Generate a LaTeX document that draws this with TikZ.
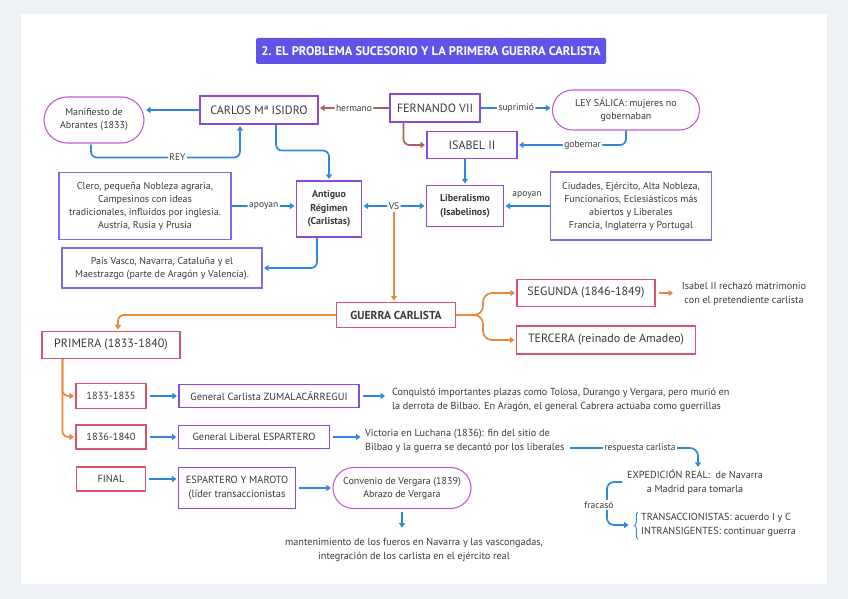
\documentclass[tikz,border=0pt]{standalone}
\usepackage{fontspec}
\setmainfont{PT Sans}
\usetikzlibrary{arrows.meta,decorations.pathreplacing,calc,shapes.misc}
\definecolor{bg}{HTML}{EEF1F5}
\definecolor{titlec}{HTML}{6253E8}
\definecolor{bluec}{HTML}{2F88DA}
\definecolor{purc}{HTML}{8C4BD6}
\definecolor{lavc}{HTML}{7D6BEA}
\definecolor{magc}{HTML}{C25BD8}
\definecolor{redc}{HTML}{D9536C}
\definecolor{orc}{HTML}{E8893A}
\definecolor{brc}{HTML}{B0605C}
\definecolor{txt}{HTML}{3A3A3A}
\tikzset{
  box/.style={draw=purc, line width=1.1pt, fill=white, text=txt, inner sep=2pt, align=center, font=\fontsize{12}{14}\selectfont},
  lbox/.style={box, draw=lavc, font=\fontsize{10}{13}\selectfont},
  rbox/.style={box, draw=redc},
  pill/.style={box, draw=magc, rounded rectangle, font=\fontsize{10}{13}\selectfont},
  smallbox/.style={font=\fontsize{10.4}{13}\selectfont},
  plain/.style={text=txt, inner sep=1pt, font=\fontsize{10.2}{14}\selectfont},
  elab/.style={fill=white, text=txt, inner sep=1.5pt, font=\fontsize{9.5}{11}\selectfont},
  tip/.style={-{Triangle[length=4.5pt,width=6pt]}},
  conn/.style={draw=bluec, line width=1.7pt, tip, rounded corners=6pt, shorten >=1.5pt},
  oconn/.style={conn, draw=orc},
  bconn/.style={conn, draw=brc},
}
\begin{document}
\begin{tikzpicture}[x=1pt,y=-1pt]
\useasboundingbox (0,0) rectangle (848,599);
\fill[bg] (0,0) rectangle (848,599);
\fill[white] (21,14) rectangle (827,584);

% title
\node[fill=titlec, text=white, minimum width=350pt, minimum height=26pt, inner sep=0pt, rounded corners=1.5pt,
  font=\fontsize{12.5}{14}\selectfont\bfseries] (title) at (431,51)
  {2. EL PROBLEMA SUCESORIO Y LA PRIMERA GUERRA CARLISTA};

% top row
\node[pill, minimum width=104pt, minimum height=46pt] (manif) at (94,120) {Manifiesto de\\Abrantes (1833)};
\node[box, minimum width=118pt, minimum height=28pt] (carlos) at (259,110) {CARLOS Mª ISIDRO};
\node[box, minimum width=90pt, minimum height=28pt] (fern) at (435,108) {FERNANDO VII};
\node[pill, minimum width=151pt, minimum height=40pt] (ley) at (626,110) {LEY SÁLICA: mujeres no\\gobernaban};
\node[box, minimum width=90pt, minimum height=27pt] (isabel) at (472,145) {ISABEL II};

% middle
\node[box, minimum width=65pt, minimum height=56pt, font=\fontsize{10}{13.5}\selectfont\bfseries] (antiguo) at (329,209) {Antiguo\\Régimen\\(Carlistas)};
\node[box, minimum width=77pt, minimum height=41pt, font=\fontsize{10}{13.5}\selectfont\bfseries] (liberal) at (465,206) {Liberalismo\\(Isabelinos)};
\node[lbox, minimum width=172pt, minimum height=67pt] (clero) at (145,206) {Clero, pequeña Nobleza agraria,\\Campesinos con ideas\\tradicionales, influidos por inglesia.\\Austria, Rusia y Prusia};
\node[lbox, minimum width=161pt, minimum height=68pt] (ciud) at (631,206) {Ciudades, Ejército, Alta Nobleza,\\Funcionarios, Eclesiásticos más\\abiertos y Liberales\\Francia, Inglaterra y Portugal};
\node[lbox, minimum width=200pt, minimum height=40pt] (pais) at (162,268) {País Vasco, Navarra, Cataluña y el\\Maestrazgo (parte de Aragón y Valencia).};

% guerra
\node[rbox, minimum width=119pt, minimum height=25pt, font=\fontsize{11.5}{13}\selectfont\bfseries] (guerra) at (396,315) {GUERRA CARLISTA};
\node[rbox, minimum width=138pt, minimum height=27pt] (primera) at (111,345) {PRIMERA (1833-1840)};
\node[rbox, minimum width=138pt, minimum height=27pt] (segunda) at (586,293) {SEGUNDA (1846-1849)};
\node[rbox, minimum width=179pt, minimum height=28pt] (tercera) at (606,340) {TERCERA (reinado de Amadeo)};
\node[plain, align=center] (segtxt) at (744,294) {Isabel II rechazó matrimonio\\con el pretendiente carlista};

% periods
\node[rbox, smallbox, minimum width=70pt, minimum height=25pt] (y1) at (111,396) {1833-1835};
\node[rbox, smallbox, minimum width=70pt, minimum height=24pt] (y2) at (111,437) {1836-1840};
\node[box, smallbox, minimum width=180pt, minimum height=23pt] (zuma) at (269,396) {General Carlista ZUMALACÁRREGUI};
\node[box, smallbox, minimum width=151pt, minimum height=23pt] (esp) at (254,437) {General Liberal ESPARTERO};
\node[plain, align=left, anchor=west] (zumatxt) at (391,400) {Conquistó importantes plazas como Tolosa, Durango y Vergara, pero murió en\\la derrota de Bilbao. En Aragón, el general Cabrera actuaba como guerrillas};
\node[plain, align=left, anchor=west] (esptxt) at (364,441) {Victoria en Luchana (1836): fin del sitio de\\Bilbao y la guerra se decantó por los liberales};

% final
\node[rbox, smallbox, minimum width=69pt, minimum height=24pt] (final) at (111,479) {FINAL};
\node[box, minimum width=117pt, minimum height=41pt, font=\fontsize{10.4}{13.5}\selectfont] (eym) at (237,488) {ESPARTERO Y MAROTO\\(líder transaccionistas};
\node[pill, minimum width=142pt, minimum height=41pt] (conv) at (402,488) {Convenio de Vergara (1839)\\Abrazo de Vergara};
\node[plain, align=center] (mant) at (414,550) {mantenimiento de los fueros en Navarra y las vascongadas,\\integración de los carlista en el ejército real};

% expedicion
\node[plain, align=center] (exp) at (695,482) {EXPEDICIÓN REAL:\ \ de Navarra\\a Madrid para tomarla};
\node[plain, align=left, anchor=west] (trans) at (640,525) {TRANSACCIONISTAS: acuerdo I y C\\INTRANSIGENTES: continuar guerra};

% ---- connectors ----
\draw[conn] (carlos.west) -- (carlos.west -| manif.east);
\draw[bconn] (fern.west) -- node[elab]{hermano} (fern.west -| carlos.east);
\draw[conn] (fern.east) -- node[elab]{suprimió} (fern.east -| ley.west);
\draw[bconn] ($(fern.south west)+(14,0)$) |- (isabel.west);
\draw[conn] (ley.south) |- node[elab, pos=0.7]{gobernar} (isabel.east);
\draw[conn] ($(manif.south)+(-3,1)$) |- node[elab, pos=0.79]{REY} ($(carlos.south)+(-19,33)$) -- ($(carlos.south)+(-19,0)$);
\draw[conn] ($(carlos.south)+(17,0)$) -- ++(0,26) -| (antiguo.north);
\draw[conn] (liberal.north |- isabel.south) -- (liberal.north);
\draw[conn] (clero.east) -- node[elab]{apoyan} (clero.east -| antiguo.west);
\draw[conn, {Triangle[length=4.5pt,width=6pt]}-{Triangle[length=4.5pt,width=6pt]}, shorten <=1.5pt] (liberal.west -| antiguo.east) -- node[elab] (vs) {VS} (liberal.west);
\draw[conn] (ciud.west) -- node[text=txt, font=\fontsize{9.5}{11}\selectfont, above=3pt]{apoyan} (ciud.west -| liberal.east);
\draw[conn] ($(antiguo.south)+(-12,0)$) |- (pais.east);

\draw[oconn] (vs.south) -- (vs.south |- guerra.north);
\draw[oconn] (guerra.west) -| ($(primera.north)+(7,0)$);
\draw[oconn, rounded corners=9pt] (guerra.east) -- ++(27,0) |- (segunda.west);
\draw[oconn, rounded corners=9pt] (guerra.east) -- ++(27,0) |- (tercera.west);
\draw[oconn, shorten <=3pt] (segunda.east) -- ++(19,0);
\draw[oconn] ($(primera.south west)+(21,0)$) |- (y1.west);
\draw[oconn] ($(primera.south west)+(21,0)$) |- (y2.west);

\draw[conn, shorten <=3pt] (y1.east) -- (zuma.west);
\draw[conn, shorten <=3pt] (y2.east) -- (esp.west);
\draw[conn, shorten <=3pt] (zuma.east) -- ++(27,0);
\draw[conn, shorten <=3pt] (esp.east) -- ++(32,0);
\draw[conn, shorten <=3pt] (final.east) -- (final.east -| eym.west);
\draw[conn, shorten <=3pt] (eym.east) -- (eym.east -| conv.west);
\draw[conn, shorten <=3pt] (conv.south) -- ++(0,20);

\coordinate (r0) at (570,448);
\draw[conn, rounded corners=8pt] (r0) -| ($(exp.north)+(3,0)$);
\node[elab] at (640,448) {respuesta carlista};
\coordinate (f0) at (622,482);
\draw[conn, rounded corners=7pt] (f0) -- (607,482) -- (607,525) -- (630,525);
\node[elab] at (599,505) {fracasó};
\draw[bluec, line width=1pt, decorate, decoration={brace, amplitude=3.5pt}] (638,539) -- (638,512);
\end{tikzpicture}
\end{document}
